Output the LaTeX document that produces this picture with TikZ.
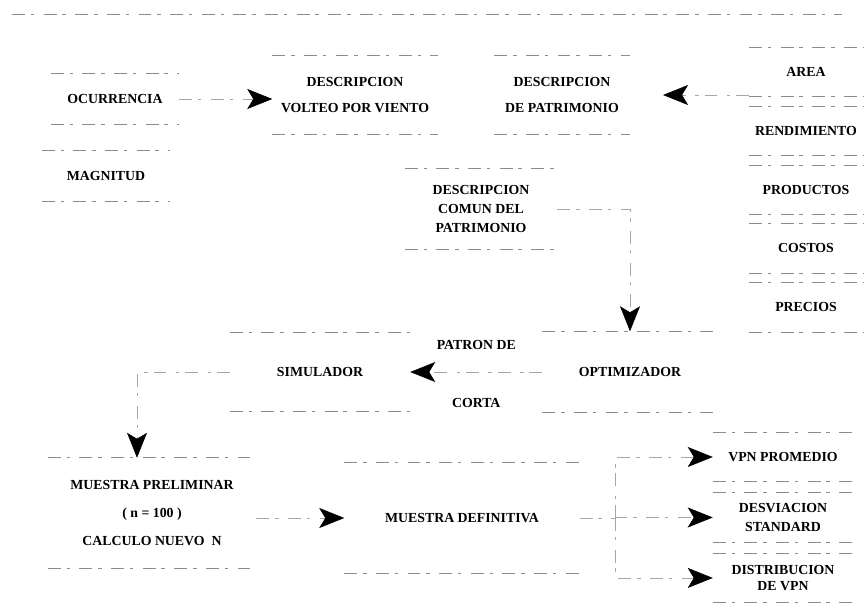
\documentclass[tikz,border=0pt]{standalone}
\usepackage{fontspec}
\setmainfont{Liberation Serif}
\usetikzlibrary{arrows.meta, positioning}

\begin{document}
\begin{tikzpicture}[
  x=0.03cm, y=-0.03cm,
  node distance=0.28cm,
  faint/.style={draw=black!45, line width=0.5pt, dash pattern=on 11pt off 5pt on 3pt off 8pt},
  blk/.style={font=\bfseries\fontsize{11.8}{13}\selectfont, align=center, inner sep=2pt,
    append after command={\pgfextra{
      \draw[faint] (\tikzlastnode.north west) -- (\tikzlastnode.north east);
      \draw[faint] (\tikzlastnode.south west) -- (\tikzlastnode.south east);}}},
  colbox/.style={blk, minimum width=3.4cm, minimum height=1.47cm},
  outbox/.style={blk, minimum width=4.2cm, minimum height=1.47cm},
  lbl/.style={font=\bfseries\fontsize{11.8}{13}\selectfont, inner sep=2pt},
  arr/.style={faint, draw=black!35, -{Stealth[length=7.5mm, width=6mm, inset=1.8mm, color=black]}}
]
  \useasboundingbox (0,0) rectangle (864,614);

  \draw[faint] (12,14) -- (842,14);

  % inputs
  \node[blk, minimum width=3.84cm, minimum height=1.5cm] (ocur) at (115,99) {OCURRENCIA};
  \node[blk, minimum width=3.84cm, minimum height=1.5cm] (magn) at (106,176) {MAGNITUD};
  \node[blk, minimum width=4.95cm, minimum height=2.37cm] (volteo) at (355,95) {DESCRIPCION\\[9pt]VOLTEO POR VIENTO};
  \node[blk, minimum width=4.05cm, minimum height=2.37cm] (patr) at (562,95) {DESCRIPCION\\[9pt]DE PATRIMONIO};
  \node[blk, minimum width=4.56cm, minimum height=2.4cm] (comun) at (481,209) {DESCRIPCION\\[3pt]COMUN DEL\\[3pt]PATRIMONIO};

  \node[colbox] (area) at (806,72) {AREA};
  \node[colbox, below=of area] (rend) {RENDIMIENTO};
  \node[colbox, below=of rend] (prod) {PRODUCTOS};
  \node[colbox, below=of prod] (cost) {COSTOS};
  \node[colbox, below=of cost] (prec) {PRECIOS};

  % modelo
  \node[blk, minimum width=5.25cm, minimum height=2.43cm] (opt) at (630,372) {OPTIMIZADOR};
  \node[blk, minimum width=5.4cm, minimum height=2.34cm] (sim) at (320,372) {SIMULADOR};
  \node[blk, minimum width=6.24cm, minimum height=3.3cm] (prelim) at (152,513) {MUESTRA PRELIMINAR\\[11pt]( n = 100 )\\[11pt]CALCULO NUEVO~~N};
  \node[blk, minimum width=7.05cm, minimum height=3.3cm] (def) at (462,518) {MUESTRA DEFINITIVA};

  % salidas
  \node[outbox] (vpn) at (783,457) {VPN PROMEDIO};
  \node[outbox, below=0.33cm of vpn] (desv) {DESVIACION\\[4pt]STANDARD};
  \node[outbox, below=0.33cm of desv] (dist) {DISTRIBUCION\\[0pt]DE VPN};

  \draw[arr] (ocur.east) -- (ocur.east -| volteo.west);
  \draw[arr, shorten >=1cm] (rend.west |- patr.east) -- (patr.east);
  \draw[arr] (comun.east) -| (opt.north);
  \draw[arr] (opt.west) -- (sim.east)
    node[lbl, midway, above=0.6cm] (patron) {PATRON DE}
    node[lbl, midway, below=0.72cm] (corta) {CORTA};
  \draw[arr] (sim.west) -| ([xshift=-0.45cm]prelim.north);
  \draw[arr] (def.west -| prelim.east) -- (def.west);

  \coordinate (split) at (615,518);
  \draw[faint, draw=black!35] (def.east) -- (split);
  \draw[arr] (split) |- (vpn.west);
  \draw[arr] (split) |- (desv.west);
  \draw[arr] (split) |- (dist.west);
\end{tikzpicture}
\end{document}
